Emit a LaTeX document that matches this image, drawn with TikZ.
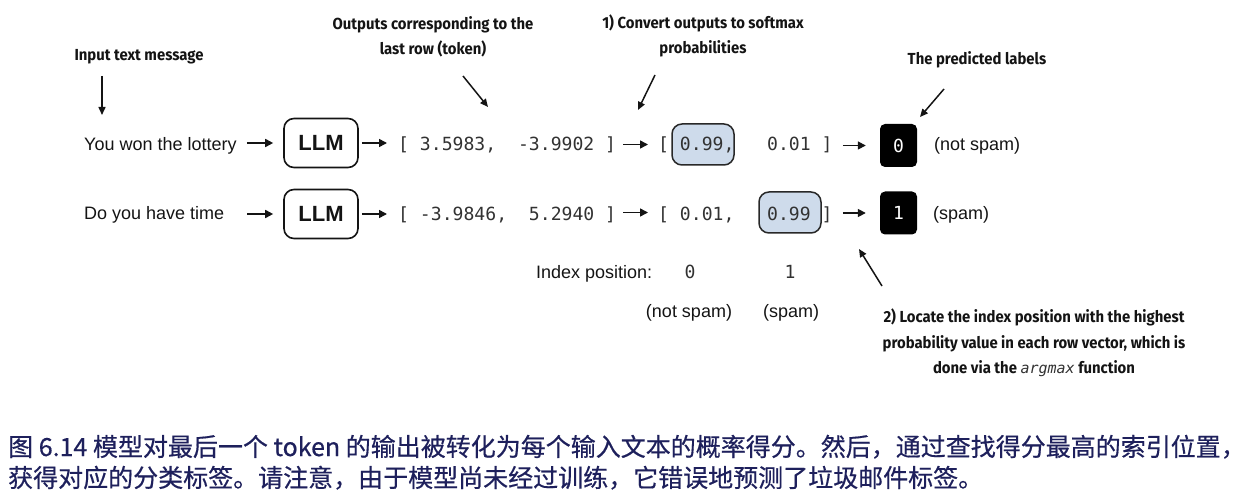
\documentclass[tikz,border=0pt]{standalone}
\usepackage{fontspec}
\setmainfont{Liberation Sans}
\newfontfamily\annotfont{Fira Sans}[FakeStretch=0.93]
\newfontfamily\monofont{DejaVu Sans Mono}
\newfontfamily\cjkfont{Noto Sans CJK SC}[FakeBold=0.5]
\usetikzlibrary{arrows.meta}
\definecolor{ink}{RGB}{20,20,20}
\definecolor{monoink}{RGB}{50,50,50}
\definecolor{probfill}{RGB}{206,219,235}
\definecolor{boxedge}{RGB}{40,40,40}
\definecolor{capcol}{RGB}{30,32,92}
\tikzset{
 txt/.style={inner sep=0pt, font=\fontsize{18}{22}\selectfont, text=ink},
 mono/.style={inner sep=0pt, font=\monofont\fontsize{18.1}{22}\selectfont, text=monoink},
 annot/.style={inner sep=0pt, align=center, font=\annotfont\bfseries\fontsize{16}{25.5}\selectfont, text=ink},
 llmbox/.style={draw=ink, line width=1.6pt, rounded corners=10pt, minimum width=74pt, minimum height=49pt, inner sep=0pt, font=\bfseries\fontsize{22}{24}\selectfont, text=ink},
 hlbox/.style={draw=boxedge, fill=probfill, line width=1.5pt, rounded corners=10pt, minimum width=62pt, minimum height=41pt, inner sep=0pt},
 labbox/.style={fill=black, rounded corners=5pt, minimum width=37pt, minimum height=43pt, inner sep=0pt, text=white, font=\monofont\fontsize{18}{22}\selectfont},
 flow/.style={line width=1.6pt, draw=ink, -{Triangle[length=8pt,width=8pt]}},
 pointer/.style={line width=1.5pt, draw=ink, -{Triangle[length=8pt,width=7pt]}},
 caption/.style={inner sep=0pt, text=capcol, font=\cjkfont\fontsize{25}{31}\selectfont},
}
\begin{document}
\begin{tikzpicture}[x=1pt,y=-1pt]
\useasboundingbox (0,0) rectangle (1245,497);

% annotations
\node[annot] (inlab) at (139,57) {Input text message};
\coordinate (inA) at (102,76);
\coordinate (inB) at (102,115);
\draw[pointer] (inA) -- (inB);

\node[annot] (outlab) at (433,37) {Outputs corresponding to the\\last row (token)};
\coordinate (outA) at (463,76);
\coordinate (outB) at (488,107);
\draw[pointer] (outA) -- (outB);

\node[annot] (smlab) at (703,36) {1) Convert outputs to softmax\\probabilities};
\coordinate (smA) at (655,75);
\coordinate (smB) at (638,110);
\draw[pointer] (smA) -- (smB);

\node[annot] (predlab) at (977,60) {The predicted labels};
\coordinate (prA) at (944,89);
\coordinate (prB) at (920,117);
\draw[pointer] (prA) -- (prB);

\node[annot] (arglab) at (1034,343) {2) Locate the index position with the highest\\probability value in each row vector, which is\\done via the {\monofont\mdseries\itshape\fontsize{15}{25.5}\selectfont\color{monoink}argmax} function};
\coordinate (agA) at (882,286);
\coordinate (agB) at (859,249);
\draw[pointer] (agA) -- (agB);

% highlight boxes (behind values)
\node[hlbox] (hl1) at (703,144.5) {};
\node[hlbox] (hl2) at (790,212.5) {};

% row 1
\node[txt, anchor=base west] (t1) at (84,150.5) {You won the lottery};
\node[llmbox] (llm1) at (321,143) {LLM};
\node[mono, anchor=base west] (v1) at (398,150.6) {[~3.5983,~~-3.9902~]};
\node[mono, anchor=base west] (p1) at (658,150.6) {[~0.99,~~~0.01~]};
\node[labbox] (lab1) at (898.5,145.5) {0};
\node[txt, anchor=base west] (n1) at (934,150.5) {(not spam)};

% row 2
\node[txt, anchor=base west] (t2) at (84,220) {Do you have time};
\node[llmbox] (llm2) at (321,214) {LLM};
\node[mono, anchor=base west] (v2) at (398,220.1) {[~-3.9846,~~5.2940~]};
\node[mono, anchor=base west] (p2) at (658,220.1) {[~0.01,~~~0.99~]};
\node[labbox] (lab2) at (898.5,213) {1};
\node[txt, anchor=base west] (n2) at (933,220) {(spam)};

% row connectors
\draw[flow] ([xshift=10pt]t1.east |- llm1) -- ([xshift=-10pt]llm1.west);
\draw[flow] ([xshift=3pt]llm1.east) -- ([xshift=-11pt]v1.west |- llm1);
\draw[flow] ([xshift=7pt]v1.east |- hl1) -- ([xshift=-10pt]p1.west |- hl1);
\draw[flow] ([xshift=10pt]p1.east |- lab1) -- ([xshift=-14pt]lab1.west);

\draw[flow] ([xshift=23pt]t2.east |- llm2) -- ([xshift=-10pt]llm2.west);
\draw[flow] ([xshift=3pt]llm2.east) -- ([xshift=-11pt]v2.west |- llm2);
\draw[flow] ([xshift=7pt]v2.east |- hl2) -- ([xshift=-10pt]p2.west |- hl2);
\draw[flow] ([xshift=10pt]p2.east |- lab2) -- ([xshift=-14pt]lab2.west);

% index row
\node[txt, anchor=base west] (idx) at (536,278.5) {Index position:};
\node[mono, anchor=base] (i0) at (690,278.6) {0};
\node[mono, anchor=base] (i1) at (790,278.6) {1};
\node[txt, anchor=base] (c0) at (689,317.5) {(not spam)};
\node[txt, anchor=base] (c1) at (791,317.5) {(spam)};

% caption
\node[caption, anchor=base west] (cap1) at (8,456) {图 6.14 模型对最后一个 token 的输出被转化为每个输入文本的概率得分。然后，通过查找得分最高的索引位置，};
\node[caption, anchor=base west] (cap2) at (8,487) {获得对应的分类标签。请注意，由于模型尚未经过训练，它错误地预测了垃圾邮件标签。};
\end{tikzpicture}
\end{document}
